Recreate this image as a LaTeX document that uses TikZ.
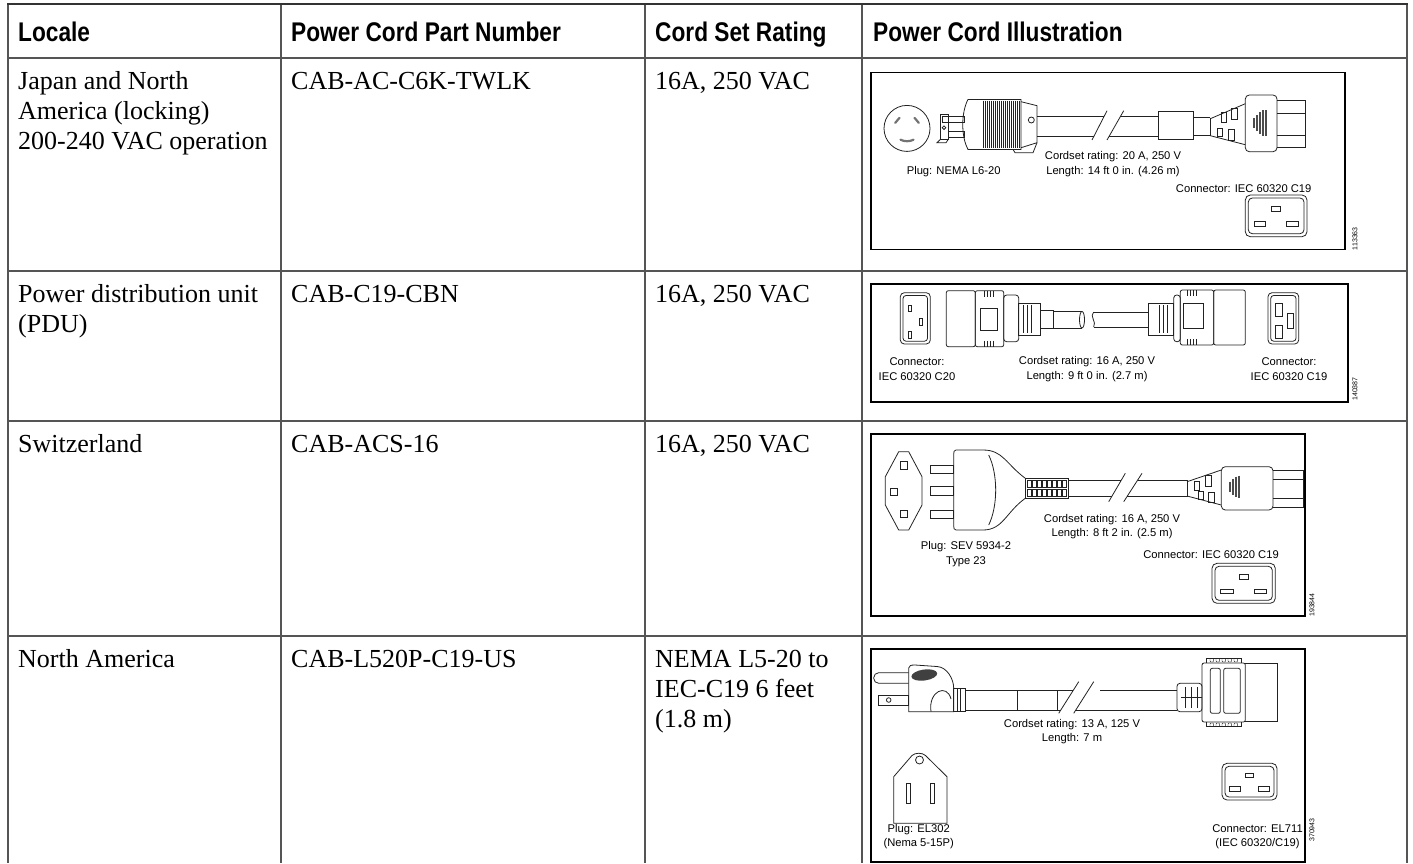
\documentclass[tikz,border=0pt]{standalone}
\usepackage{fontspec}
\setmainfont{Liberation Serif}
\newfontfamily\hdfont[FakeStretch=0.84]{Liberation Sans}
\newfontfamily\lblfont{Liberation Sans}
\usetikzlibrary{calc}

\definecolor{rulegray}{HTML}{555555}
\definecolor{inkgray}{HTML}{222222}

\tikzset{
  rule/.style={draw=rulegray, line width=1.4pt},
  toprule/.style={draw=black!80, line width=2.6pt},
  hdcell/.style={anchor=base west, inner sep=0pt, font=\hdfont\bfseries\fontsize{27}{30}\selectfont},
  bodycell/.style={anchor=base west, inner sep=0pt, align=left, font=\fontsize{26}{30}\selectfont},
  figframe/.style={draw=black, line width=1.3pt},
  drw/.style={draw=inkgray, line width=0.8pt},
  thin/.style={draw=inkgray, line width=0.45pt},
  slot/.style={draw=black!55, line width=2.2pt, line cap=round},
  lbl/.style={inner sep=0pt, align=center, font=\lblfont\fontsize{11.2}{14.5}\selectfont},
  fignum/.style={inner sep=0pt, rotate=90, font=\lblfont\fontsize{7}{8}\selectfont},
}

% C19 face seen from the front: x, y (top left), width, height
\newcommand{\facecnineteen}[4]{%
  \begin{scope}[shift={(#1,#2)}]
    \draw[drw, rounded corners=5pt] (0,0) rectangle (#3,#4);
    \draw[drw, rounded corners=4pt] (3,3) rectangle ({#3-3},{#4-3});
    \draw[drw] ({0.43*#3},{0.27*#4}) rectangle ({0.57*#3},{0.39*#4});
    \draw[drw] ({0.14*#3},{0.64*#4}) rectangle ({0.33*#3},{0.76*#4});
    \draw[drw] ({0.67*#3},{0.64*#4}) rectangle ({0.86*#3},{0.76*#4});
  \end{scope}}

\begin{document}
\begin{tikzpicture}[x=1pt, y=-1pt]
  \useasboundingbox (0,0) rectangle (1413,863);

  % table rules
  \foreach \x in {8,281,645,862,1407} \draw[rule] (\x,4) -- (\x,863);
  \foreach \y in {58,271,421,636} \draw[rule] (8,\y) -- (1407,\y);
  \draw[toprule] (7,4) -- (1408,4);

  % header
  \node[hdcell] (hloc)  at (18,41)  {Locale};
  \node[hdcell] (hpart) at (291,41) {Power Cord Part Number};
  \node[hdcell] (hrate) at (655,41) {Cord Set Rating};
  \node[hdcell] (hill)  at (873,41) {Power Cord Illustration};

  % rows (base of a cell = its last line)
  \node[bodycell] (locA) at (18,149) {Japan and North\\America (locking)\\200-240 VAC operation};
  \node[bodycell] (partA) at (291,89) {CAB-AC-C6K-TWLK};
  \node[bodycell] (rateA) at (655,89) {16A, 250 VAC};

  \node[bodycell] (locB) at (18,332) {Power distribution unit\\(PDU)};
  \node[bodycell] (partB) at (291,302) {CAB-C19-CBN};
  \node[bodycell] (rateB) at (655,302) {16A, 250 VAC};

  \node[bodycell] (locC) at (18,452) {Switzerland};
  \node[bodycell] (partC) at (291,452) {CAB-ACS-16};
  \node[bodycell] (rateC) at (655,452) {16A, 250 VAC};

  \node[bodycell] (locD) at (18,667) {North America};
  \node[bodycell] (partD) at (291,667) {CAB-L520P-C19-US};
  \node[bodycell] (rateD) at (655,727) {NEMA L5-20 to\\IEC-C19 6 feet\\(1.8 m)};

  % illustration 1: NEMA L6-20
  \begin{scope}[shift={(871,72.7)}]
    \draw[figframe] (0,0) rectangle (474,177);
    % receptacle face
    \draw[drw] (36,55.7) circle[radius=23];
    \draw[slot] (28.5,45.1) -- (24.2,50.2);
    \draw[slot] (43.5,45.1) -- (47.8,50.2);
    \draw[slot] (29.5,67) .. controls (33,69) and (39,69) .. (42.5,67);
    % blades
    \draw[drw] (71,44) rectangle (93,50);
    \draw[drw] (77,59) rectangle (93,65);
    \draw[drw] (69,42) rectangle (77,67);
    \draw[drw] (73,55) circle[radius=1.8];
    \draw[drw] (69,67) -- (66,70) -- (75,70) -- (77,67);
    % plug body
    \draw[drw] (97,26.7) .. controls (90,40) and (90,64) .. (97,76.7) -- (150,76.7) -- (150,26.7) -- cycle;
    \foreach \x in {112,114,...,148} \draw[thin] (\x,28) -- (\x,75.5);
    \draw[drw] (150,29) -- (166,33) -- (166,70) -- (150,75);
    \draw[drw] (160.3,47.3) circle[radius=3];
    \draw[drw] (142,76.7) -- (144,80) -- (162,80) -- (166,70);
    % cord with break
    \draw[drw] (166,44) -- (232.9,44);
    \draw[drw] (166,64) -- (222.7,64);
    \draw[drw] (221,67.3) -- (236,38);
    \draw[drw] (236,67.3) -- (252.7,38);
    \draw[drw] (249.3,44) -- (287.7,44);
    \draw[drw] (237.9,64) -- (287.7,64);
    \draw[drw] (287.7,39) rectangle (322.7,67);
    \draw[drw] (322.7,45) -- (339.3,45);
    \draw[drw] (322.7,63) -- (339.3,63);
    % strain relief
    \draw[drw] (339.3,45) -- (339.3,63);
    \draw[drw] (339.3,46) -- (374.3,31);
    \draw[drw] (339.3,63) -- (374.3,72);
    \draw[drw] (350,40) rectangle (355,50);
    \draw[drw] (360,36) rectangle (366,47);
    \draw[drw] (346,56) rectangle (351,64);
    \draw[drw] (357,57) rectangle (363,68);
    % connector
    \draw[drw, rounded corners=4pt] (374.3,22.3) rectangle (406,79);
    \foreach \x/\h in {383/5,386/8,389/11,392/13,395/13}
      \draw[line width=1.8pt, black!70] (\x,{50.7-\h}) -- (\x,{50.7+\h});
    \draw[drw] (406,27.3) -- (434.3,27.3) -- (434.3,74.7) -- (406,74.7);
    \draw[drw] (406,40.7) -- (434.3,40.7);
    \draw[drw] (406,62.3) -- (434.3,62.3);
    % labels
    \node[lbl] (plugA) at (82.7,99) {Plug: NEMA L6-20};
    \node[lbl] (cordA) at (242,91.5) {Cordset rating: 20 A, 250 V\\Length: 14 ft 0 in. (4.26 m)};
    \node[lbl] (connA) at (372.7,115.7) {Connector: IEC 60320 C19};
    \facecnineteen{374.3}{122.3}{61.7}{41.7}
    \node[fignum] (numA) at (484,166) {113363};
  \end{scope}

  % illustration 2: C19 to C20 jumper
  \begin{scope}[shift={(871,284)}]
    \draw[figframe] (0,0) rectangle (477,118);
    % C20 inlet face
    \draw[drw, rounded corners=4pt] (29.3,8.7) rectangle (59.3,60);
    \draw[drw, rounded corners=3pt] (32,11.5) rectangle (56.5,57.2);
    \draw[drw] (37.7,21) rectangle (40.3,27.7);
    \draw[drw] (48.7,34.3) rectangle (51.3,41);
    \draw[drw] (37.7,47.7) rectangle (40.3,54.3);
    % C20 plug
    \draw[drw, rounded corners=2pt] (75.3,6.7) rectangle (104.3,62.7);
    \draw[drw, rounded corners=2pt] (104.3,6.7) rectangle (132.7,62.7);
    \draw[drw] (109.3,24.3) rectangle (126,46);
    \foreach \x in {113,116,119,122} {
      \draw[thin] (\x,6.7) -- (\x,12.5);
      \draw[thin] (\x,56.9) -- (\x,62.7);
    }
    \draw[drw, rounded corners=3pt] (132.7,11) rectangle (147.7,57.7);
    \draw[drw] (147.7,19.3) rectangle (169.3,51);
    \foreach \x in {152,156,160} \draw[thin] (\x,21) -- (\x,49.3);
    \draw[drw] (169.3,26) rectangle (182.7,44.3);
    \draw[drw] (182.7,27.3) -- (211,27.3);
    \draw[drw] (182.7,44) -- (211,44);
    \draw[drw] (211,35.7) ellipse[x radius=2.5, y radius=8.3];
    % cord break
    \draw[drw] (222.7,28) .. controls (218,32) and (226,38) .. (222.7,43);
    \draw[drw] (222.7,28) -- (277.7,28);
    \draw[drw] (222.7,43) -- (277.7,43);
    % C19 plug
    \draw[drw] (277.7,19.3) rectangle (302.7,51);
    \foreach \x in {288,292,296} \draw[thin] (\x,21) -- (\x,49.3);
    \draw[drw, rounded corners=3pt] (302.7,11) rectangle (309.3,57.7);
    \draw[drw, rounded corners=2pt] (309.3,6) rectangle (342.7,61);
    \draw[drw] (312.7,19.3) rectangle (332.7,44.3);
    \foreach \x in {316,319,322,325} {
      \draw[thin] (\x,6) -- (\x,11.8);
      \draw[thin] (\x,55.2) -- (\x,61);
    }
    \draw[drw, rounded corners=2pt] (342.7,6) rectangle (374.3,61);
    % C19 inlet face
    \draw[drw, rounded corners=4pt] (397,8.7) rectangle (427.7,60);
    \draw[drw, rounded corners=3pt] (399.7,11.5) rectangle (425,57.2);
    \draw[drw] (404.3,19.3) rectangle (411,32.7);
    \draw[drw] (404.3,41) rectangle (411,54.3);
    \draw[drw] (416,29.3) rectangle (422,44.3);
    % labels
    \node[lbl] (connB) at (46,85) {Connector:\\IEC 60320 C20};
    \node[lbl] (cordB) at (216,85) {Cordset rating: 16 A, 250 V\\Length: 9 ft 0 in. (2.7 m)};
    \node[lbl] (connBB) at (418,85) {Connector:\\IEC 60320 C19};
    \node[fignum] (numB) at (484,105) {140387};
  \end{scope}

  % illustration 3: SEV 5934-2
  \begin{scope}[shift={(871,434)}]
    \draw[figframe] (0,0) rectangle (434,182);
    % socket face
    \draw[drw] (27.7,17.7) -- (37.7,17.7) -- (51,42.7) -- (51,71) -- (37.7,96)
      -- (27.7,96) -- (14.3,71) -- (14.3,42.7) -- cycle;
    \draw[drw] (29.3,27.7) rectangle (36,35);
    \draw[drw] (19.3,54.3) rectangle (26,61.6);
    \draw[drw] (29.3,76.5) rectangle (36,83.8);
    % pins
    \foreach \y in {31,52.7,76} \draw[drw] (59.3,\y) rectangle (82.7,{\y+8.3});
    % plug body
    \draw[drw] (154.3,44.3) .. controls (135,30) and (132,16) .. (112,16) -- (85,16)
      .. controls (83,16) and (82.7,18) .. (82.7,20) -- (82.7,92)
      .. controls (82.7,94) and (83,96) .. (85,96) -- (112,96)
      .. controls (132,96) and (135,78) .. (154.3,64.3);
    \draw[drw] (117.7,21) .. controls (127,40) and (127,72) .. (117.7,91);
    % ribbed sleeve
    \draw[drw] (154.3,44.3) rectangle (197.7,64.3);
    \foreach \x in {156.5,161.5,...,191.5} {
      \draw[thin] (\x,46) rectangle ++(3.6,7.2);
      \draw[thin] (\x,55.3) rectangle ++(3.6,7.2);
    }
    % cord with break
    \draw[drw] (197.7,46) -- (250.4,46);
    \draw[drw] (197.7,62.7) -- (240.6,62.7);
    \draw[drw] (237.7,67.7) -- (254.3,39.3);
    \draw[drw] (252.7,67.7) -- (271,39.3);
    \draw[drw] (266.7,46) -- (316,46);
    \draw[drw] (255.9,62.7) -- (316,62.7);
    % strain relief
    \draw[drw] (316,46) -- (316,62.7);
    \draw[drw] (316,47.7) -- (350.3,36);
    \draw[drw] (316,62) -- (350.3,71);
    \draw[drw] (323,47) rectangle (328,56);
    \draw[drw] (334,41) rectangle (340,52);
    \draw[drw] (327,57) rectangle (332,65);
    \draw[drw] (337,58) rectangle (343,68);
    % connector
    \draw[drw, rounded corners=4pt] (350.3,32.7) rectangle (402,76);
    \foreach \x/\h in {359/5,362/8,365/10,368/11}
      \draw[line width=1.8pt, black!70] (\x,{52.7-\h}) -- (\x,{52.7+\h});
    \draw[drw] (402,36) -- (432.7,36) -- (432.7,73.3) -- (402,73.3);
    \draw[drw] (402,45) -- (432.7,45);
    \draw[drw] (402,64) -- (432.7,64);
    % labels
    \node[lbl] (cordC) at (241,92.7) {Cordset rating: 16 A, 250 V\\Length: 8 ft 2 in. (2.5 m)};
    \node[lbl] (plugC) at (95,120) {Plug: SEV 5934-2\\Type 23};
    \node[lbl] (connC) at (340,121) {Connector: IEC 60320 C19};
    \facecnineteen{341}{129.3}{63.3}{40}
    \node[fignum] (numC) at (441,171) {193844};
  \end{scope}

  % illustration 4: NEMA 5-15P
  \begin{scope}[shift={(871,649)}]
    \draw[figframe] (0,0) rectangle (434,213);
    % prongs
    \draw[drw, rounded corners=5pt] (37.7,23.7) -- (2.7,23.7) -- (2.7,34.3) -- (37.7,34.3);
    \draw[drw] (7.7,46) rectangle (37.7,56);
    \draw[drw] (17.7,51) circle[radius=2.3];
    % plug body
    \draw[drw] (37.7,62.7) -- (37.7,19) .. controls (37.7,16.5) and (40,16) .. (44,16)
      -- (66,17.5) .. controls (76,18) and (82.7,30) .. (82.7,39.3) -- (82.7,62.7) -- cycle;
    \draw[drw] (60,62.7) .. controls (57,42) and (76,34) .. (80,50);
    \fill[black!75, rotate around={8:(53.3,26)}] (53.3,26) ellipse[x radius=13, y radius=5.5];
    \draw[drw] (82.7,39.3) rectangle (94.3,62.7);
    \foreach \x in {86,89.5} \draw[thin] (\x,39.3) -- (\x,62.7);
    % cord with break
    \draw[drw] (94.3,41) -- (202.4,41);
    \draw[drw] (94.3,61) -- (189.8,61);
    \draw[thin] (146,41) -- (146,61);
    \draw[thin] (186,41) -- (186,61);
    \draw[drw] (187.7,64.3) -- (207.7,32.7);
    \draw[drw] (202.7,64.3) -- (222.7,32.7);
    \draw[drw] (229.3,41) -- (306,41);
    \draw[drw] (204.8,61) -- (306,61);
    % connector
    \draw[drw, rounded corners=3pt] (306,34.3) rectangle (331,62.7);
    \foreach \x in {314,320,326} \draw[thin] (\x,38) -- (\x,59);
    \draw[thin] (310,48.5) -- (331,48.5);
    \draw[drw, rounded corners=2pt] (331,14) rectangle (374.3,73);
    \draw[drw] (335,14) -- (335,9.3) -- (370,9.3) -- (370,14);
    \draw[drw] (335,73) -- (335,77.7) -- (370,77.7) -- (370,73);
    \foreach \x in {339,345,...,363} {
      \draw[thin, rounded corners=1pt] (\x,9.3) -- (\x,13) -- ({\x+3.6},13) -- ({\x+3.6},9.3);
      \draw[thin, rounded corners=1pt] (\x,77.7) -- (\x,74) -- ({\x+3.6},74) -- ({\x+3.6},77.7);
    }
    \draw[drw, rounded corners=2pt] (339.3,19.3) rectangle (349.3,64.3);
    \draw[drw, rounded corners=2pt] (352.7,19.3) rectangle (369.3,64.3);
    \draw[drw] (374.3,14.3) -- (406,14.3) -- (406,72.7) -- (374.3,72.7);
    % NEMA 5-15 face
    \draw[drw] (22.7,174.3) -- (22.7,127.7) -- (41,106.5)
      .. controls (44,103.5) and (51.5,103.5) .. (54.5,106.5)
      -- (76,127.7) -- (76,174.3) -- cycle;
    \draw[drw] (48.5,111) circle[radius=4];
    \draw[drw] (35.5,134.3) rectangle (39.5,154.3);
    \draw[drw] (59.1,134.3) rectangle (63.1,154.3);
    % labels
    \node[lbl] (cordD) at (201,82.7) {Cordset rating: 13 A, 125 V\\Length: 7 m};
    \node[lbl] (plugD) at (47.7,187.7) {Plug: EL302\\(Nema 5-15P)};
    \facecnineteen{351}{114.3}{55}{36.7}
    \node[lbl] (connD) at (386.5,187.7) {Connector: EL711\\(IEC 60320/C19)};
    \node[fignum] (numD) at (441,181) {370943};
  \end{scope}
\end{tikzpicture}
\end{document}
